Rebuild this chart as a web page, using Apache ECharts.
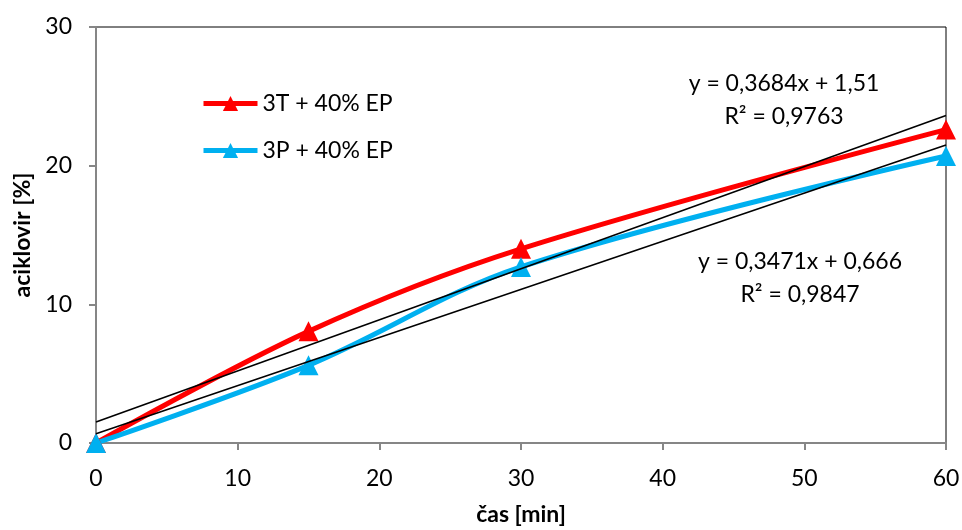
<!DOCTYPE html>
<html>
<head>
<meta charset="utf-8">
<script src="https://cdn.jsdelivr.net/npm/echarts@6/dist/echarts.min.js"></script>
<style>
  html, body { margin: 0; padding: 0; background: #fff; }
  #chart { width: 962px; height: 530px; }
</style>
</head>
<body>
<div id="chart"></div>
<script>
// Release time [min] and released aciclovir [%]
const times = [0, 15, 30, 60];
const series3T = [0, 8.05, 14.0, 22.6];
const series3P = [0, 5.6, 12.7, 20.7];
const seriesNames = ['3T + 40% EP', '3P + 40% EP'];

// Linear trend fits (slope, intercept) and their labels
const fit3T = [0.3684, 1.51];
const fit3P = [0.3471, 0.666];
const fitLabels3T = ['y = 0,3684x + 1,51', 'R² = 0,9763'];
const fitLabels3P = ['y = 0,3471x + 0,666', 'R² = 0,9847'];

const xTicks = [0, 10, 20, 30, 40, 50, 60];
const yTicks = [0, 10, 20, 30];

const FONT = 'Lato, "Open Sans", sans-serif';
const FS = 23;

function pairs(xs, ys) { return xs.map((x, i) => [x, ys[i]]); }
function fitLine(fit) {
  const x0 = xTicks[0], x1 = xTicks[xTicks.length - 1];
  return [[x0, fit[0] * x0 + fit[1]], [x1, fit[0] * x1 + fit[1]]];
}

const chart = echarts.init(document.getElementById('chart'));

chart.setOption({
  animation: false,
  backgroundColor: '#fff',
  textStyle: { fontFamily: FONT },
  grid: {
    left: 96, right: 16, top: 27, bottom: 87,
    containLabel: false,
    outerBoundsMode: 'none',
    show: true, borderColor: '#000', borderWidth: 1
  },
  legend: {
    data: seriesNames,
    orient: 'vertical',
    left: 196,
    top: 87,
    itemWidth: 54,
    itemHeight: 19,
    itemGap: 24,
    lineStyle: { width: 5 },
    textStyle: { fontFamily: FONT, fontSize: FS, color: '#000' }
  },
  xAxis: {
    type: 'value',
    min: xTicks[0],
    max: xTicks[xTicks.length - 1],
    interval: 10,
    name: 'čas [min]',
    nameLocation: 'middle',
    nameGap: 60,
    nameTextStyle: { fontFamily: FONT, fontSize: FS, fontWeight: 'bold', color: '#000' },
    axisLine: { show: true, lineStyle: { color: '#868686', width: 2 } },
    axisTick: { show: true, inside: false, length: 7, lineStyle: { color: '#868686', width: 2 } },
    axisLabel: { fontFamily: FONT, fontSize: FS, color: '#000', margin: 24 },
    splitLine: { show: false }
  },
  yAxis: {
    type: 'value',
    min: yTicks[0],
    max: yTicks[yTicks.length - 1],
    interval: 10,
    name: 'aciklovir [%]',
    nameLocation: 'middle',
    nameGap: 61,
    nameTextStyle: { fontFamily: FONT, fontSize: FS, fontWeight: 'bold', color: '#000' },
    axisLine: { show: true, lineStyle: { color: '#868686', width: 2 } },
    axisTick: { show: true, inside: false, length: 7, lineStyle: { color: '#868686', width: 2 } },
    axisLabel: { fontFamily: FONT, fontSize: FS, color: '#000', margin: 24 },
    splitLine: { show: false }
  },
  series: [
    {
      name: seriesNames[0],
      type: 'line',
      data: pairs(times, series3T),
      smooth: 0.35,
      symbol: 'triangle',
      symbolSize: 20,
      itemStyle: { color: '#ff0000' },
      lineStyle: { color: '#ff0000', width: 5 },
      z: 3
    },
    {
      name: seriesNames[1],
      type: 'line',
      data: pairs(times, series3P),
      smooth: 0.35,
      symbol: 'triangle',
      symbolSize: 20,
      itemStyle: { color: '#00b0f0' },
      lineStyle: { color: '#00b0f0', width: 5 },
      z: 3
    },
    {
      name: 'trend 3T',
      type: 'line',
      data: fitLine(fit3T),
      symbol: 'none',
      lineStyle: { color: '#000', width: 1.6 },
      silent: true,
      z: 4
    },
    {
      name: 'trend 3P',
      type: 'line',
      data: fitLine(fit3P),
      symbol: 'none',
      lineStyle: { color: '#000', width: 1.6 },
      silent: true,
      z: 4
    }
  ],
  graphic: [
    { type: 'text', x: 784, y: 84, style: { text: fitLabels3T[0], font: FS + 'px ' + FONT, fill: '#000', align: 'center', verticalAlign: 'middle' } },
    { type: 'text', x: 784, y: 117, style: { text: fitLabels3T[1], font: FS + 'px ' + FONT, fill: '#000', align: 'center', verticalAlign: 'middle' } },
    { type: 'text', x: 800, y: 262, style: { text: fitLabels3P[0], font: FS + 'px ' + FONT, fill: '#000', align: 'center', verticalAlign: 'middle' } },
    { type: 'text', x: 800, y: 295, style: { text: fitLabels3P[1], font: FS + 'px ' + FONT, fill: '#000', align: 'center', verticalAlign: 'middle' } }
  ]
});
</script>
</body>
</html>
